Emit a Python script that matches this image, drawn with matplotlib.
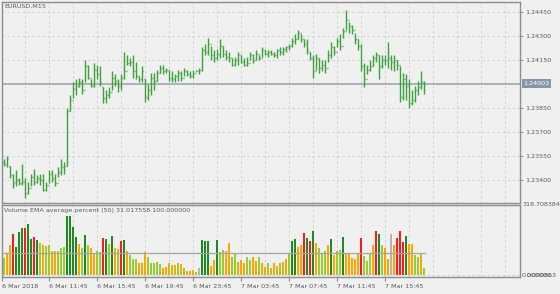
import matplotlib
matplotlib.use("Agg")
import matplotlib.pyplot as plt
import matplotlib.transforms as mtrans
import numpy as np

symbol = "EURUSD,M15"
indicator_label = "Volume EMA average percent (50) 31.017558 100.000000"
bid = 1.24003
price_ticks = [1.24450, 1.24300, 1.24150, 1.23850, 1.23700, 1.23550, 1.23400]
vol_top = 318.708384
vol_level = 100.0

time_labels = ["6 Mar 2018", "6 Mar 11:45", "6 Mar 15:45", "6 Mar 19:45", "6 Mar 23:45",
               "7 Mar 03:45", "7 Mar 07:45", "7 Mar 11:45", "7 Mar 15:45"]
time_label_bars = [-0.7, 15, 31, 47, 63, 79, 95, 111, 127]

open_ = [1.2351, 1.2350, 1.2349, 1.2343, 1.2339, 1.2340, 1.2338, 1.2339, 1.2332, 1.2335,
         1.2342, 1.2339, 1.2341, 1.2340, 1.2334, 1.2337, 1.2344, 1.2341, 1.2338, 1.2345,
         1.2348, 1.2349, 1.2383, 1.2390, 1.2397, 1.2399, 1.2401, 1.2396, 1.2411, 1.2404,
         1.2399, 1.2409, 1.2406, 1.2398, 1.2391, 1.2393, 1.2395, 1.2404, 1.2402, 1.2399,
         1.2404, 1.2408, 1.2413, 1.2414, 1.2408, 1.2405, 1.2403, 1.2403, 1.2392, 1.2396,
         1.2404, 1.2402, 1.2407, 1.2410, 1.2408, 1.2409, 1.2404, 1.2403, 1.2405, 1.2407,
         1.2404, 1.2408, 1.2406, 1.2405, 1.2407, 1.2408, 1.2409, 1.2421, 1.2420, 1.2425,
         1.2418, 1.2416, 1.2419, 1.2424, 1.2419, 1.2417, 1.2416, 1.2412, 1.2415, 1.2418,
         1.2414, 1.2412, 1.2413, 1.2418, 1.2415, 1.2419, 1.2416, 1.2421, 1.2419, 1.2420,
         1.2419, 1.2418, 1.2421, 1.2420, 1.2422, 1.2423, 1.2424, 1.2427, 1.2428, 1.2432,
         1.2428, 1.2425, 1.2420, 1.2416, 1.2408, 1.2416, 1.2410, 1.2412, 1.2410, 1.2418,
         1.2423, 1.2420, 1.2427, 1.2424, 1.2433, 1.2440, 1.2436, 1.2434, 1.2428, 1.2424,
         1.2411, 1.2403, 1.2409, 1.2411, 1.2416, 1.2418, 1.2411, 1.2415, 1.2415, 1.2416,
         1.2414, 1.2415, 1.2412, 1.2392, 1.2403, 1.2399, 1.2388, 1.2390, 1.2396, 1.2398, 1.2401]
high = [1.2353, 1.2355, 1.2349, 1.2344, 1.2346, 1.2341, 1.2350, 1.2341, 1.2339, 1.2344,
        1.2347, 1.2343, 1.2344, 1.2344, 1.2339, 1.2346, 1.2346, 1.2344, 1.2348, 1.2353,
        1.2351, 1.2385, 1.2393, 1.2401, 1.2403, 1.2404, 1.2403, 1.2415, 1.2412, 1.2403,
        1.2413, 1.2412, 1.2411, 1.2398, 1.2396, 1.2398, 1.2408, 1.2406, 1.2403, 1.2406,
        1.2420, 1.2418, 1.2416, 1.2418, 1.2414, 1.2405, 1.2411, 1.2403, 1.2400, 1.2407,
        1.2407, 1.2409, 1.2412, 1.2412, 1.2410, 1.2409, 1.2408, 1.2406, 1.2409, 1.2408,
        1.2410, 1.2409, 1.2408, 1.2409, 1.2409, 1.2410, 1.2423, 1.2425, 1.2429, 1.2424,
        1.2421, 1.2422, 1.2428, 1.2424, 1.2421, 1.2420, 1.2416, 1.2417, 1.2420, 1.2418,
        1.2416, 1.2417, 1.2420, 1.2419, 1.2421, 1.2418, 1.2423, 1.2421, 1.2421, 1.2421,
        1.2420, 1.2422, 1.2423, 1.2423, 1.2424, 1.2425, 1.2429, 1.2431, 1.2434, 1.2431,
        1.2428, 1.2428, 1.2420, 1.2418, 1.2419, 1.2416, 1.2415, 1.2415, 1.2421, 1.2426,
        1.2424, 1.2429, 1.2431, 1.2435, 1.2446, 1.2439, 1.2437, 1.2432, 1.2428, 1.2425,
        1.2413, 1.2412, 1.2415, 1.2418, 1.2420, 1.2418, 1.2418, 1.2418, 1.2426, 1.2418,
        1.2418, 1.2415, 1.2411, 1.2407, 1.2406, 1.2403, 1.2396, 1.2399, 1.2402, 1.2408, 1.2402]
low = [1.2349, 1.2348, 1.2341, 1.2335, 1.2336, 1.2337, 1.2337, 1.2329, 1.2331, 1.2336,
       1.2337, 1.2338, 1.2337, 1.2333, 1.2333, 1.2338, 1.2339, 1.2336, 1.2342, 1.2343,
       1.2344, 1.2349, 1.2383, 1.2391, 1.2393, 1.2398, 1.2394, 1.2401, 1.2403, 1.2398,
       1.2398, 1.2403, 1.2399, 1.2388, 1.2388, 1.2391, 1.2396, 1.2399, 1.2395, 1.2396,
       1.2403, 1.2412, 1.2411, 1.2404, 1.2403, 1.2401, 1.2401, 1.2389, 1.2390, 1.2393,
       1.2396, 1.2402, 1.2407, 1.2406, 1.2407, 1.2402, 1.2401, 1.2401, 1.2402, 1.2402,
       1.2405, 1.2405, 1.2404, 1.2404, 1.2408, 1.2406, 1.2408, 1.2418, 1.2418, 1.2415,
       1.2414, 1.2415, 1.2416, 1.2417, 1.2415, 1.2414, 1.2411, 1.2411, 1.2412, 1.2413,
       1.2411, 1.2411, 1.2415, 1.2413, 1.2415, 1.2415, 1.2417, 1.2418, 1.2417, 1.2418,
       1.2417, 1.2416, 1.2418, 1.2418, 1.2420, 1.2421, 1.2423, 1.2425, 1.2428, 1.2426,
       1.2423, 1.2419, 1.2415, 1.2404, 1.2409, 1.2407, 1.2408, 1.2407, 1.2414, 1.2416,
       1.2418, 1.2423, 1.2421, 1.2429, 1.2434, 1.2432, 1.2431, 1.2425, 1.2421, 1.2408,
       1.2398, 1.2406, 1.2408, 1.2411, 1.2414, 1.2403, 1.2410, 1.2412, 1.2410, 1.2409,
       1.2408, 1.2409, 1.2389, 1.2390, 1.2390, 1.2385, 1.2387, 1.2389, 1.2393, 1.2397, 1.2394]
close = [1.2350, 1.2354, 1.2343, 1.2338, 1.2340, 1.2338, 1.2339, 1.2332, 1.2335, 1.2342,
         1.2339, 1.2341, 1.2340, 1.2334, 1.2337, 1.2344, 1.2341, 1.2338, 1.2345, 1.2348,
         1.2349, 1.2383, 1.2390, 1.2397, 1.2399, 1.2401, 1.2396, 1.2411, 1.2404, 1.2399,
         1.2409, 1.2406, 1.2401, 1.2391, 1.2393, 1.2395, 1.2404, 1.2402, 1.2399, 1.2404,
         1.2408, 1.2413, 1.2414, 1.2408, 1.2405, 1.2403, 1.2408, 1.2392, 1.2396, 1.2404,
         1.2402, 1.2407, 1.2410, 1.2408, 1.2409, 1.2404, 1.2403, 1.2405, 1.2407, 1.2404,
         1.2408, 1.2406, 1.2405, 1.2407, 1.2408, 1.2409, 1.2421, 1.2420, 1.2425, 1.2418,
         1.2416, 1.2419, 1.2424, 1.2419, 1.2417, 1.2416, 1.2412, 1.2415, 1.2418, 1.2414,
         1.2412, 1.2413, 1.2418, 1.2415, 1.2419, 1.2416, 1.2421, 1.2419, 1.2420, 1.2419,
         1.2418, 1.2421, 1.2420, 1.2422, 1.2423, 1.2424, 1.2427, 1.2428, 1.2432, 1.2428,
         1.2425, 1.2421, 1.2416, 1.2408, 1.2416, 1.2410, 1.2412, 1.2410, 1.2418, 1.2423,
         1.2420, 1.2427, 1.2424, 1.2433, 1.2440, 1.2436, 1.2434, 1.2428, 1.2424, 1.2411,
         1.2403, 1.2409, 1.2411, 1.2416, 1.2418, 1.2411, 1.2415, 1.2415, 1.2416, 1.2414,
         1.2415, 1.2412, 1.2392, 1.2403, 1.2399, 1.2388, 1.2390, 1.2396, 1.2398, 1.2401, 1.24003]

volume_pct = [76, 99, 136, 185, 129, 197, 215, 212, 230, 164,
              174, 159, 144, 136, 133, 136, 109, 109, 109, 124,
              129, 270, 270, 220, 174, 139, 121, 182, 136, 121,
              101, 109, 106, 167, 164, 139, 179, 124, 117, 156,
              161, 109, 91, 71, 71, 53, 53, 106, 83, 53,
              53, 61, 48, 33, 38, 56, 45, 45, 53, 48,
              30, 18, 18, 23, 12, 30, 159, 154, 154, 41,
              68, 159, 103, 114, 109, 144, 83, 94, 61, 68,
              53, 83, 68, 83, 64, 83, 53, 35, 53, 33,
              53, 42, 53, 61, 73, 99, 154, 162, 129, 136,
              192, 167, 154, 200, 148, 124, 101, 109, 136, 162,
              91, 109, 114, 171, 94, 94, 79, 71, 99, 167,
              88, 65, 99, 136, 200, 185, 136, 121, 71, 185,
              136, 167, 200, 151, 179, 139, 139, 91, 83, 101, 30]
volume_state = list("LOORGGGRGG" "RGLOLLOOLL" "LGGGGOLGLO" "OLLRGLGOLR"
                    "GOLLLOOOLL" "LLLOOOLOLO" "LOOOLSGGGO" "OGLLOOLLOO"
                    "OLLOOLOOLO" "OLOLOLGGOO" "RGRGOLLLOG" "OLLGOOOOOR"
                    "LLLORGLOOS" "ORRRGOOLLOL")

state_colors = {"G": "#1f8a1f", "L": "#9acd32", "O": "#ffa500",
                "R": "#ff1a1a", "S": "#b4b4b4"}

bg = "#f0f0f0"
txt = "#5a5a5a"
grid_kw = dict(color="#cdcdcd", lw=0.6, ls=(0, (3, 3)))
plt.rcParams["font.family"] = "DejaVu Sans"
fs = 4.6

n = len(close)
idx = np.arange(n)
xlim = (-0.67, 172)

fig = plt.figure(figsize=(5.6, 2.94), dpi=100, facecolor=bg)
ax1 = fig.add_axes([2 / 560, 91 / 294, 518 / 560, 201 / 294], facecolor=bg)
ax2 = fig.add_axes([2 / 560, 17 / 294, 518 / 560, 72 / 294], facecolor=bg)

for ax in (ax1, ax2):
    ax.set_xlim(*xlim)
    for s in ax.spines.values():
        s.set_color("#8c8c8c")
        s.set_linewidth(1.0)
    for xg in range(7, 172, 8):
        ax.axvline(xg, zorder=0, **grid_kw)

# price panel
ax1.set_ylim(1.23256, 1.24513)
for p in price_ticks + [1.24000]:
    ax1.axhline(p, zorder=0, **grid_kw)
ax1.vlines(idx, low, high, color="#3ca23c", lw=1.0)
ax1.hlines(open_, idx - 0.45, idx, color="#3ca23c", lw=1.0)
ax1.hlines(close, idx, idx + 0.45, color="#3ca23c", lw=1.0)
ax1.axhline(bid, color="#9ba3ad", lw=1.1, zorder=1)

ax1.yaxis.tick_right()
ax1.set_yticks(price_ticks)
ax1.set_yticklabels([f"{p:.5f}" for p in price_ticks])
ax1.tick_params(axis="y", length=2.5, width=0.8, color="#8c8c8c", labelsize=fs,
                labelcolor=txt, pad=1.5)
ax1.set_xticks([])
ax1.annotate(f"{bid:.5f}", xy=(1.0, bid), xycoords=("axes fraction", "data"),
             xytext=(2.5, 0), textcoords="offset points", va="center", ha="left",
             fontsize=fs, color="white",
             bbox=dict(boxstyle="square,pad=0.25", fc="#8796a6", ec="none"))
ax1.text(0.004, 0.99, symbol, transform=ax1.transAxes, va="top", ha="left",
         fontsize=fs, color=txt)

# volume panel
ax2.set_ylim(-9, vol_top)
ax2.axhline(0, zorder=0, **grid_kw)
ax2.bar(idx, volume_pct, width=0.62, color=[state_colors[s] for s in volume_state],
        zorder=2)
ax2.hlines(vol_level, -0.67, n - 0.5, color="#a5a5a5", lw=0.9, zorder=3)
ax2.text(0.003, 0.96, indicator_label, transform=ax2.transAxes, va="top", ha="left",
         fontsize=fs, color=txt)
ax2.set_yticks([])
ax2.text(1.004, 1.0, f"{vol_top:.6f}", transform=ax2.transAxes, va="center",
         ha="left", fontsize=fs, color=txt)
t0 = mtrans.blended_transform_factory(ax2.transAxes, ax2.transData)
ax2.text(1.004, 0, "0.000000", transform=t0, va="center", ha="left", fontsize=fs, color=txt)
ax2.text(1.012, 0, "0.000863", transform=t0, va="center", ha="left", fontsize=fs, color=txt)

ax2.set_xticks(time_label_bars)
ax2.set_xticklabels(time_labels, ha="left")
ax2.tick_params(axis="x", length=3, width=0.8, color="#8c8c8c", labelsize=fs,
                labelcolor=txt, pad=2)

fig.savefig("out.png", dpi=100, facecolor=bg)
